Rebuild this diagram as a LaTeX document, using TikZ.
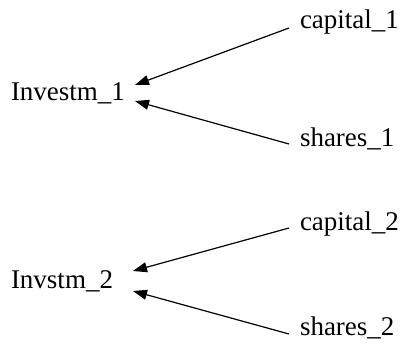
\documentclass[tikz,border=0pt]{standalone}
\usepackage{fontspec}
\setmainfont{Liberation Serif}
\usetikzlibrary{arrows.meta,calc}
\tikzset{
  lbl/.style={inner sep=0pt, outer sep=0pt, font=\fontsize{27}{30}\selectfont},
  edge/.style={line width=1.2pt, -{Triangle[length=14pt,width=10pt]}}
}
\begin{document}
\begin{tikzpicture}[x=1pt,y=-1pt]
  \useasboundingbox (0,0) rectangle (401,356);
  % first group
  \node[lbl, anchor=base west] (cap1) at (300,28)  {capital\_1};
  \node[lbl, anchor=base west] (inv1) at (11,100)  {Investm\_1};
  \node[lbl, anchor=base west] (sh1)  at (300,146) {shares\_1};
  % second group
  \node[lbl, anchor=base west] (cap2) at (300,230) {capital\_2};
  \node[lbl, anchor=base west] (inv2) at (11,288)  {Invstm\_2};
  \node[lbl, anchor=base west] (sh2)  at (300,335) {shares\_2};
  % edges
  \draw[edge] ($(cap1.base west)+(-11,0)$) -- ($(inv1.base east)+(10,-15)$);
  \draw[edge] ($(sh1.base west)+(-11,-2)$) -- ($(inv1.base east)+(10,1)$);
  \draw[edge] ($(cap2.base west)+(-11,-2)$) -- ($(inv2.base east)+(20,-17)$);
  \draw[edge] ($(sh2.base west)+(-11,-1)$) -- ($(inv2.base east)+(20,3)$);
\end{tikzpicture}
\end{document}
